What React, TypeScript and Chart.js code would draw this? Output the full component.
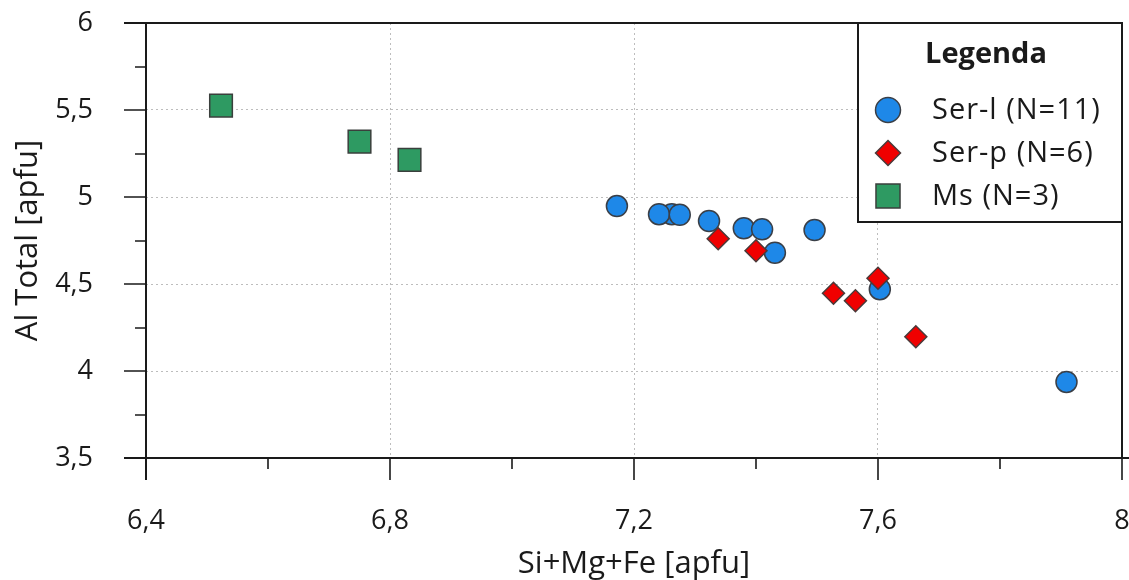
import { useEffect, useRef } from "react";
import { Chart, registerables } from "chart.js";

Chart.register(...registerables);

// Data
const serLX = [7.262, 7.172, 7.241, 7.275, 7.323, 7.38, 7.41, 7.431, 7.496, 7.603, 7.909];
const serLY = [4.901, 4.948, 4.901, 4.898, 4.862, 4.82, 4.814, 4.68, 4.81, 4.47, 3.937];
const serPX = [7.338, 7.4, 7.527, 7.563, 7.6, 7.662];
const serPY = [4.76, 4.691, 4.447, 4.404, 4.533, 4.197];
const msX = [6.523, 6.75, 6.832];
const msY = [5.525, 5.318, 5.213];
const seriesLabels = ["Ser-l (N=11)", "Ser-p (N=6)", "Ms (N=3)"];
const legendTitle = "Legenda";
const xTitle = "Si+Mg+Fe [apfu]";
const yTitle = "Al Total [apfu]";
const xMajor = [6.4, 6.8, 7.2, 7.6, 8];
const xMinor = [6.6, 7.0, 7.4, 7.8];
const yMajor = [3.5, 4, 4.5, 5, 5.5, 6];
const yMinor = [3.75, 4.25, 4.75, 5.25, 5.75];

const FONT = "'Open Sans', 'DejaVu Sans', sans-serif";
const INK = "#1a1a1a";

const fmt = (v: number) => String(Math.round(v * 10) / 10).replace(".", ",");

function drawMarker(ctx: CanvasRenderingContext2D, style: string, x: number, y: number, r: number) {
  ctx.beginPath();
  if (style === "rect") {
    const s = Math.SQRT1_2 * r;
    ctx.rect(x - s, y - s, 2 * s, 2 * s);
  } else if (style === "rectRot") {
    ctx.moveTo(x - r, y);
    ctx.lineTo(x, y - r);
    ctx.lineTo(x + r, y);
    ctx.lineTo(x, y + r);
    ctx.closePath();
  } else {
    ctx.arc(x, y, r, 0, Math.PI * 2);
  }
  ctx.fill();
  ctx.stroke();
}

const framePlugin = {
  id: "frameTicks",
  afterDatasetsDraw(chart: any) {
    const { ctx, chartArea: a, scales } = chart;
    const xs = scales.x;
    const ys = scales.y;
    ctx.save();
    ctx.strokeStyle = INK;
    ctx.lineWidth = 2;
    ctx.beginPath();
    ctx.moveTo(a.left - 22, a.top);
    ctx.lineTo(a.right, a.top);
    ctx.lineTo(a.right, a.bottom);
    ctx.moveTo(a.left - 22, a.bottom);
    ctx.lineTo(chart.width, a.bottom);
    ctx.moveTo(a.left, a.top);
    ctx.lineTo(a.left, a.bottom + 22);
    ctx.stroke();
    ctx.lineWidth = 1.6;
    ctx.beginPath();
    xMajor.forEach((v) => {
      const p = Math.round(xs.getPixelForValue(v));
      ctx.moveTo(p, a.bottom);
      ctx.lineTo(p, a.bottom + 22);
    });
    xMinor.forEach((v) => {
      const p = Math.round(xs.getPixelForValue(v));
      ctx.moveTo(p, a.bottom);
      ctx.lineTo(p, a.bottom + 11);
    });
    yMajor.forEach((v) => {
      const p = Math.round(ys.getPixelForValue(v));
      ctx.moveTo(a.left, p);
      ctx.lineTo(a.left - 22, p);
    });
    yMinor.forEach((v) => {
      const p = Math.round(ys.getPixelForValue(v));
      ctx.moveTo(a.left, p);
      ctx.lineTo(a.left - 11, p);
    });
    ctx.stroke();
    ctx.restore();
  },
  afterDraw(chart: any) {
    const { ctx, chartArea: a } = chart;
    const bx = 858;
    const by = a.top;
    const bw = a.right - bx;
    const bh = 199;
    ctx.save();
    ctx.fillStyle = "#ffffff";
    ctx.fillRect(bx, by, bw, bh);
    ctx.strokeStyle = INK;
    ctx.lineWidth = 2;
    ctx.strokeRect(bx, by, bw, bh);
    ctx.fillStyle = INK;
    ctx.textAlign = "center";
    ctx.textBaseline = "middle";
    ctx.font = `bold 29px ${FONT}`;
    ctx.fillText(legendTitle, 986, by + 32);
    const rowsY = [110, 153, 196];
    chart.data.datasets.forEach((ds: any, i: number) => {
      const y = rowsY[i];
      const style = ds.pointStyle;
      const r = style === "rect" ? 17 : 12.5;
      ctx.fillStyle = ds.backgroundColor;
      ctx.strokeStyle = ds.borderColor;
      ctx.lineWidth = ds.borderWidth;
      drawMarker(ctx, style, 888, y, r);
      ctx.fillStyle = INK;
      ctx.textAlign = "left";
      ctx.font = `29px ${FONT}`;
      (ctx as any).letterSpacing = "1px";
      ctx.fillText(ds.label, 932, y + 1);
      (ctx as any).letterSpacing = "0px";
    });
    ctx.restore();
  },
};

export default function App() {
  const ref = useRef<HTMLCanvasElement>(null);
  useEffect(() => {
    document.body.style.margin = "0";
    const canvas = ref.current!;
    const gridColor = (c: any) => {
      const v = c.tick?.value;
      const s = c.scale;
      if (v === undefined) return "transparent";
      if (Math.abs(v - s.min) < 1e-6 || Math.abs(v - s.max) < 1e-6) return "transparent";
      return "#bdbdbd";
    };
    const zeroPad = (s: any) => {
      s.paddingTop = 0;
      s.paddingBottom = 0;
      s.paddingLeft = 0;
      s.paddingRight = 0;
    };
    const chart = new Chart(canvas, {
      type: "scatter",
      data: {
        datasets: [
          {
            label: seriesLabels[0],
            data: serLX.map((x, i) => ({ x, y: serLY[i] })),
            pointStyle: "circle",
            pointRadius: 10.5,
            backgroundColor: "#1E88E8",
            borderColor: "#3a3f47",
            borderWidth: 1.5,
            order: 2,
          },
          {
            label: seriesLabels[1],
            data: serPX.map((x, i) => ({ x, y: serPY[i] })),
            pointStyle: "rectRot",
            pointRadius: 11,
            backgroundColor: "#F00000",
            borderColor: "#4a3a3a",
            borderWidth: 1.5,
            order: 1,
          },
          {
            label: seriesLabels[2],
            data: msX.map((x, i) => ({ x, y: msY[i] })),
            pointStyle: "rect",
            pointRadius: 16,
            backgroundColor: "#2E9A62",
            borderColor: "#3a3f3c",
            borderWidth: 1.5,
            order: 3,
          },
        ] as any,
      },
      options: {
        animation: false,
        responsive: false,
        events: [],
        layout: { autoPadding: false, padding: { left: 0, top: 23, right: 7, bottom: 0 } },
        plugins: {
          legend: { display: false },
          tooltip: { enabled: false },
        },
        scales: {
          x: {
            type: "linear",
            min: 6.4,
            max: 8,
            afterFit: (s: any) => {
              s.height = 122;
              zeroPad(s);
            },
            ticks: {
              stepSize: 0.4,
              padding: 47,
              color: INK,
              font: { family: FONT, size: 27 },
              callback: (v: any) => fmt(Number(v)),
            },
            grid: { color: gridColor, drawTicks: false, lineWidth: 1 },
            border: { display: false, dash: [2, 3] },
            title: {
              display: true,
              text: xTitle,
              color: INK,
              font: { family: FONT, size: 31, lineHeight: 1 },
              padding: { top: 0, bottom: 0 },
            },
          },
          y: {
            type: "linear",
            min: 3.5,
            max: 6,
            afterFit: (s: any) => {
              s.width = 146;
              zeroPad(s);
            },
            ticks: {
              stepSize: 0.5,
              padding: 53,
              color: INK,
              font: { family: FONT, size: 27 },
              callback: (v: any) => fmt(Number(v)),
            },
            grid: { color: gridColor, drawTicks: false, lineWidth: 1 },
            border: { display: false, dash: [2, 3] },
            title: {
              display: true,
              text: yTitle,
              color: INK,
              font: { family: FONT, size: 31, lineHeight: 1 },
              padding: { top: 13, bottom: 0 },
            },
          },
        },
      } as any,
      plugins: [framePlugin],
    });
    return () => chart.destroy();
  }, []);
  return (
    <div style={{ position: "absolute", left: 0, top: 0, width: 1129, height: 580, background: "#fff" }}>
      <canvas ref={ref} width={1129} height={580} style={{ display: "block" }} />
    </div>
  );
}
